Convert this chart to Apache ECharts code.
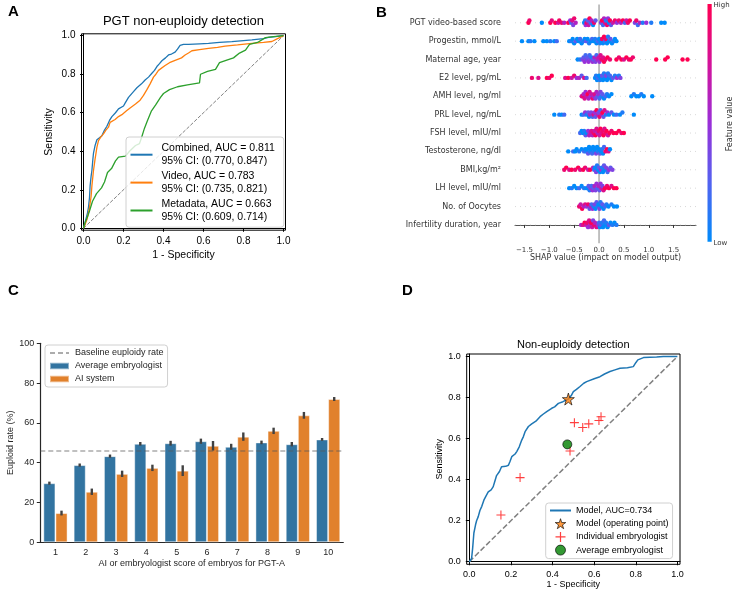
<!DOCTYPE html>
<html><head><meta charset="utf-8">
<script src="https://cdn.jsdelivr.net/npm/echarts@6/dist/echarts.min.js"></script>
<style>html,body{margin:0;padding:0;background:#fff}#c{width:736px;height:593px}</style>
</head><body><div id="c"></div>
<script>
// ---------- Panel A data ----------
const rocTicks = [0, 0.2, 0.4, 0.6, 0.8, 1.0];
const rocNames = ['Combined', 'Video', 'Metadata'];
const rocAUC = ['0.811', '0.783', '0.663'];
const rocCI = ['(0.770, 0.847)', '(0.735, 0.821)', '(0.609, 0.714)'];
const combinedROC = [[0,0],[0.008,0.03],[0.02,0.08],[0.025,0.11],[0.03,0.16],[0.033,0.22],[0.038,0.27],[0.042,0.30],[0.047,0.36],[0.05,0.39],[0.058,0.43],[0.067,0.46],[0.08,0.47],[0.092,0.48],[0.105,0.51],[0.117,0.53],[0.13,0.56],[0.142,0.58],[0.16,0.60],[0.175,0.62],[0.2,0.635],[0.208,0.65],[0.225,0.68],[0.233,0.69],[0.25,0.71],[0.267,0.73],[0.29,0.75],[0.308,0.77],[0.325,0.785],[0.342,0.805],[0.355,0.82],[0.367,0.84],[0.38,0.855],[0.392,0.87],[0.41,0.885],[0.425,0.9],[0.44,0.905],[0.458,0.915],[0.47,0.93],[0.483,0.95],[0.5,0.955],[0.525,0.955],[0.58,0.958],[0.625,0.96],[0.68,0.965],[0.742,0.969],[0.8,0.975],[0.842,0.978],[0.9,0.985],[0.925,0.991],[0.96,0.995],[1,1]];
const videoROC = [[0,0],[0.008,0.02],[0.017,0.045],[0.028,0.095],[0.033,0.13],[0.038,0.165],[0.042,0.22],[0.05,0.30],[0.058,0.36],[0.067,0.42],[0.075,0.455],[0.087,0.475],[0.1,0.49],[0.112,0.51],[0.125,0.525],[0.133,0.55],[0.158,0.565],[0.175,0.58],[0.192,0.59],[0.215,0.61],[0.233,0.625],[0.26,0.645],[0.283,0.665],[0.3,0.69],[0.317,0.72],[0.333,0.75],[0.35,0.785],[0.362,0.80],[0.375,0.82],[0.408,0.845],[0.43,0.86],[0.458,0.872],[0.49,0.885],[0.508,0.9],[0.525,0.91],[0.542,0.922],[0.58,0.928],[0.625,0.934],[0.67,0.94],[0.708,0.946],[0.77,0.952],[0.842,0.96],[0.9,0.965],[0.942,0.97],[0.97,0.985],[1,1]];
const metadataROC = [[0,0],[0.008,0.03],[0.02,0.06],[0.03,0.09],[0.045,0.14],[0.065,0.18],[0.09,0.21],[0.105,0.24],[0.12,0.29],[0.14,0.31],[0.16,0.35],[0.175,0.37],[0.21,0.375],[0.23,0.40],[0.26,0.43],[0.28,0.44],[0.29,0.47],[0.305,0.52],[0.32,0.56],[0.34,0.61],[0.36,0.64],[0.385,0.68],[0.40,0.70],[0.43,0.72],[0.47,0.735],[0.52,0.745],[0.58,0.755],[0.585,0.80],[0.62,0.815],[0.66,0.825],[0.68,0.86],[0.72,0.875],[0.75,0.885],[0.78,0.91],[0.81,0.925],[0.83,0.955],[0.87,0.965],[0.91,0.99],[0.95,0.995],[1,1]];
const chanceLine = [[0,0],[1,1]];

// ---------- Panel B data: [SHAP value, normalised feature value (-1 = missing)] ----------
const featureNames = ['PGT video-based score','Progestin, mmol/L','Maternal age, year','E2 level, pg/mL','AMH level, ng/ml','PRL level, ng/mL','FSH level, mIU/ml','Testosterone, ng/dl','BMI,kg/m\u00B2','LH level, mIU/ml','No. of Oocytes','Infertility duration, year'];
const shapTicks = [-1.5, -1.0, -0.5, 0, 0.5, 1.0, 1.5];
const shapPGT = [[-1.42,1],[-1.40,0.9],[-1.15,0],[-0.98,1],[-0.95,0.85],[-0.88,1],[-0.82,0.7],[-0.8,0.95],[-0.75,0.9],[-0.7,0.6],[-0.62,1],[-0.58,0.5],[-0.56,0.2],[-0.54,0.8],[-0.52,0.4],[-0.5,0.9],[-0.47,0.6],[-0.3,0],[-0.28,0.1],[-0.27,0.5],[-0.25,0.9],[-0.23,0.3],[-0.21,0.7],[-0.19,1],[-0.17,0.2],[-0.15,0.6],[-0.12,0],[-0.1,0.9],[-0.07,0.3],[0.04,0.4],[0.06,1],[0.08,0.2],[0.1,0.6],[0.12,0.8],[0.14,0.1],[0.16,0.9],[0.18,0.5],[0.2,0],[0.22,1],[0.24,0.3],[0.28,0.7],[0.32,0.9],[0.36,0.5],[0.4,0.9],[0.44,0.6],[0.48,1],[0.52,0.2],[0.55,0.7],[0.58,0.9],[0.62,1],[0.72,0.4],[0.75,0.9],[0.78,0.2],[0.82,0.6],[0.88,0.1],[0.95,0.5],[1.05,0.1],[1.25,0],[1.32,0]];
const shapProgestin = [[-1.55,0],[-1.42,0],[-1.38,0.1],[-1.3,0],[-1.12,0],[-1.05,0],[-0.98,0.1],[-0.9,-1],[-0.85,0.2],[-0.6,0],[-0.56,0.1],[-0.53,0],[-0.5,-1],[-0.47,0.3],[-0.44,0],[-0.41,-1],[-0.38,0.2],[-0.35,0],[-0.32,0.1],[-0.29,0],[-0.26,0.3],[-0.23,0],[-0.2,0.1],[-0.17,0],[-0.14,0.2],[-0.11,0],[-0.08,0.1],[-0.05,0],[-0.02,0.2],[0,0],[0.02,0.1],[0.04,0],[0.06,0.9],[0.08,0],[0.1,1],[0.12,0.2],[0.14,0.9],[0.16,0],[0.18,0.1],[0.2,0],[0.23,0.3],[0.26,0],[0.29,0.1],[0.32,0],[0.35,0]];
const shapAge = [[-0.43,0],[-0.38,0.1],[-0.33,0.4],[-0.31,0.3],[-0.29,0.5],[-0.27,0.2],[-0.25,0.4],[-0.23,0.3],[-0.21,0.5],[-0.19,0.2],[-0.17,0.4],[-0.15,0.1],[-0.13,0.5],[-0.11,0.3],[-0.09,0.6],[-0.07,0.4],[-0.05,0.2],[-0.03,0.6],[-0.01,0.7],[0.01,0.5],[0.03,0.8],[0.05,0.9],[0.08,0.8],[0.1,1],[0.13,0.9],[0.17,1],[0.22,0.9],[0.35,1],[0.4,0.9],[0.45,1],[0.5,0.8],[0.55,1],[0.6,0.9],[0.64,1],[0.68,0.9],[1.15,1],[1.33,1],[1.38,1],[1.68,1],[1.78,1]];
const shapE2 = [[-1.35,0.9],[-1.22,0.8],[-1.05,1],[-1.0,0.9],[-0.95,1],[-0.68,0.8],[-0.62,1],[-0.55,0.7],[-0.5,0.9],[-0.45,0.5],[-0.4,0.6],[-0.35,0.3],[-0.3,0.8],[-0.25,0.2],[-0.08,0],[-0.06,0.1],[-0.04,0],[-0.02,0.2],[0,0],[0.02,0.1],[0.04,0],[0.06,0.3],[0.08,0],[0.1,0.1],[0.12,0],[0.14,0.4],[0.16,0],[0.18,0.1],[0.2,0],[0.22,0.2],[0.25,0],[0.28,0.3],[0.32,0.1],[0.36,0.5],[0.4,0.1],[0.43,0.4]];
const shapAMH = [[-0.35,0.7],[-0.33,0.9],[-0.31,0.6],[-0.29,0.8],[-0.27,0.5],[-0.25,0.7],[-0.23,1],[-0.21,0.6],[-0.19,0.8],[-0.17,0.5],[-0.15,0.7],[-0.13,0.9],[-0.11,0.6],[-0.09,0.8],[-0.07,0.4],[-0.05,0.6],[-0.03,0.3],[-0.01,0.5],[0.01,0.2],[0.03,0.4],[0.05,0.1],[0.07,0.3],[0.1,0],[0.13,0.2],[0.16,0.1],[0.2,0],[0.25,0],[0.65,0],[0.7,0.1],[0.75,0],[0.8,0],[0.85,0.1],[0.9,0],[1.07,-1]];
const shapPRL = [[-0.9,0],[-0.8,0.1],[-0.75,0],[-0.7,0.2],[-0.35,0],[-0.31,0.2],[-0.28,0.5],[-0.25,0.1],[-0.22,0.3],[-0.2,0],[-0.18,0.6],[-0.16,0.4],[-0.13,0.2],[-0.11,0.8],[-0.09,0.5],[-0.07,0.3],[-0.05,1],[-0.03,0.6],[-0.01,0.4],[0.01,0.9],[0.03,0.2],[0.05,0.7],[0.07,1],[0.09,0.3],[0.11,0.8],[0.14,0.1],[0.17,0.5],[0.2,0],[0.25,0.3],[0.3,0],[0.35,0.2],[0.42,0],[0.47,0.1],[0.7,0]];
const shapFSH = [[-0.38,0.2],[-0.35,0],[-0.32,-1],[-0.3,0.1],[-0.27,0.3],[-0.25,0],[-0.22,0.5],[-0.2,0.6],[-0.17,0.7],[-0.15,0.8],[-0.13,0.6],[-0.11,0.9],[-0.09,0.7],[-0.07,1],[-0.05,0.8],[-0.03,0.6],[-0.01,0.9],[0.01,0.7],[0.03,1],[0.05,0.8],[0.07,0.9],[0.09,1],[0.11,0.8],[0.13,0.9],[0.15,1],[0.18,0.7],[0.21,1],[0.25,0.9],[0.29,1],[0.35,1],[0.4,1],[0.45,0.9],[0.5,1]];
const shapTestosterone = [[-0.62,0],[-0.52,0.2],[-0.48,0],[-0.45,-1],[-0.4,0.1],[-0.35,0],[-0.3,0.2],[-0.28,0],[-0.26,0.1],[-0.24,0],[-0.22,0.3],[-0.2,0],[-0.18,0.1],[-0.16,0],[-0.14,0.2],[-0.12,0],[-0.1,0.1],[-0.08,0],[-0.06,0.4],[-0.04,0],[-0.02,0.1],[0,0],[0.02,0.3],[0.04,0],[0.06,0.1],[0.08,0],[0.1,0.2],[0.13,0.9],[0.16,1],[0.19,0.8],[0.22,0]];
const shapBMI = [[-0.7,0.9],[-0.66,1],[-0.6,0.8],[-0.55,1],[-0.48,0.9],[-0.42,1],[-0.38,0.8],[-0.32,1],[-0.28,0.9],[-0.22,0.7],[-0.18,1],[-0.12,0.6],[-0.1,0.2],[-0.08,0],[-0.06,0.4],[-0.04,0.1],[-0.02,0],[0,0.3],[0.02,0],[0.04,0.5],[0.06,0.1],[0.08,0],[0.1,0.3],[0.12,0],[0.14,0.4],[0.17,0.2],[0.2,0.5],[0.23,0.3],[0.27,0.4]];
const shapLH = [[-0.6,0],[-0.55,0.1],[-0.5,0],[-0.45,0],[-0.4,0.2],[-0.35,0],[-0.3,0.1],[-0.25,0],[-0.21,0.3],[-0.19,0.1],[-0.17,0.4],[-0.15,0.2],[-0.13,0.5],[-0.11,0.3],[-0.09,0.6],[-0.07,0.4],[-0.05,0.5],[-0.03,0.2],[-0.01,0.6],[0.01,0.3],[0.03,0.5],[0.05,0.7],[0.07,0.4],[0.09,0.8],[0.12,1],[0.16,0.9],[0.2,1],[0.25,0.8],[0.3,1],[0.35,1]];
const shapOocytes = [[-0.4,0.9],[-0.37,0.7],[-0.34,1],[-0.31,0.6],[-0.28,0.8],[-0.25,0.5],[-0.22,0.9],[-0.19,0.3],[-0.17,0.6],[-0.15,0.2],[-0.13,0.5],[-0.11,0.1],[-0.09,0.4],[-0.07,0],[-0.05,0.3],[-0.03,0.1],[-0.01,0],[0.01,0.4],[0.03,0.1],[0.05,0],[0.07,0.3],[0.09,0],[0.12,0.2],[0.15,0.1],[0.19,0],[0.25,0.1],[0.3,0],[0.36,0]];
const shapInfertility = [[-0.36,0.6],[-0.32,0.8],[-0.29,1],[-0.26,0.7],[-0.24,0.9],[-0.22,0.5],[-0.2,0.8],[-0.18,0.6],[-0.16,1],[-0.14,0.7],[-0.12,0.4],[-0.1,0.9],[-0.08,0.6],[-0.05,0.8],[-0.02,0.5],[0,0.2],[0.02,0],[0.04,0.3],[0.06,0.1],[0.08,0],[0.1,0.2],[0.12,0],[0.14,0.1],[0.17,0],[0.2,0.3],[0.23,0],[0.27,0.1],[0.31,0],[0.35,0.1]];
const shapRows = [shapPGT, shapProgestin, shapAge, shapE2, shapAMH, shapPRL, shapFSH, shapTestosterone, shapBMI, shapLH, shapOocytes, shapInfertility];

// ---------- Panel C data ----------
const scoreCategories = ['1','2','3','4','5','6','7','8','9','10'];
const embryologistRate = [29.7, 38.8, 43.3, 49.5, 49.8, 50.8, 48.0, 50.2, 49.3, 51.7];
const embryologistErr = [0.8, 0.8, 0.8, 0.9, 1.2, 1.3, 1.5, 0.9, 1.1, 0.7];
const aiRate = [14.7, 25.4, 34.4, 37.4, 36.0, 48.5, 53.1, 56.0, 63.8, 72.0];
const aiErr = [1.2, 1.6, 1.6, 1.6, 2.7, 2.4, 2.1, 1.6, 1.7, 1.0];
const baselineRate = 46.0;

// ---------- Panel D data ----------
const modelROC = [[0,0],[0.011,0.016],[0.016,0.065],[0.022,0.14],[0.03,0.18],[0.035,0.2],[0.043,0.22],[0.051,0.25],[0.06,0.27],[0.07,0.30],[0.08,0.32],[0.091,0.34],[0.105,0.35],[0.115,0.366],[0.122,0.39],[0.131,0.42],[0.145,0.44],[0.155,0.463],[0.175,0.465],[0.188,0.47],[0.196,0.49],[0.204,0.512],[0.22,0.525],[0.228,0.537],[0.24,0.56],[0.252,0.593],[0.26,0.61],[0.268,0.634],[0.284,0.659],[0.3,0.672],[0.32,0.685],[0.34,0.707],[0.356,0.72],[0.372,0.732],[0.396,0.748],[0.41,0.755],[0.428,0.772],[0.45,0.78],[0.476,0.793],[0.49,0.81],[0.5,0.829],[0.515,0.84],[0.532,0.854],[0.55,0.87],[0.564,0.878],[0.6,0.892],[0.628,0.902],[0.65,0.915],[0.676,0.927],[0.7,0.935],[0.724,0.943],[0.76,0.945],[0.788,0.951],[0.8,0.97],[0.81,0.984],[0.837,0.995],[0.9,0.998],[0.933,1],[1,1]];
const operatingPoint = [[0.476, 0.793]];
const individualEmbryologists = [[0.152,0.228],[0.244,0.41],[0.484,0.54],[0.505,0.678],[0.545,0.654],[0.574,0.672],[0.623,0.688],[0.633,0.707]];
const averageEmbryologist = [[0.471, 0.572]];

// ---------- helpers ----------
const SANS = 'Liberation Sans';
const DJV = 'DejaVu Sans';
const shapColors = ['#008bfa', '#5362f0', '#9a2fd8', '#d4129a', '#ff0051'];
const starPath = 'path://M50,0L61,35L98,35L68,57L79,91L50,70L21,91L32,57L2,35L39,35Z';
const plusPath = 'path://M0,44L100,44L100,56L0,56Z M44,0L56,0L56,100L44,100Z';
const fmt1 = v => Number(v).toFixed(1);
const hideSym = { opacity: 0 };

// beeswarm stacking (deterministic layout like shap's summary plot)
function swarm(points) {
  const BIN = 0.075;
  const order = points.map((p, i) => i).sort((a, b) => points[a][0] - points[b][0]);
  const layers = {};
  const out = new Array(points.length);
  order.forEach(i => {
    const b = Math.round(points[i][0] / BIN);
    const l = layers[b] || 0;
    layers[b] = l + 1;
    out[i] = Math.ceil(l / 2) * ((l % 2) * 2 - 1);
  });
  return out;
}
const swarmData = [];
shapRows.forEach((row, r) => {
  const offs = swarm(row);
  row.forEach((p, k) => swarmData.push([p[0], (11 - r) + offs[k] * 0.12, p[1]]));
});

function roAxis(gi, min, max, fs, color) {
  return {
    type: 'value', gridIndex: gi, min: min, max: max,
    axisLine: { show: true, lineStyle: { color: '#000', width: 1 } },
    axisTick: { show: true, length: 3.5, customValues: rocTicks, lineStyle: { color: '#000' } },
    axisLabel: { customValues: rocTicks, formatter: fmt1, fontSize: fs, color: color, fontFamily: SANS, margin: 6 },
    splitLine: { show: false }
  };
}

const chart = echarts.init(document.getElementById('c'), null, { renderer: 'canvas' });

const series = [];
// A
const rocColors = ['#1f77b4', '#ff7f0e', '#2ca02c'];
series.push({ type: 'line', xAxisIndex: 0, yAxisIndex: 0, data: chanceLine, symbol: 'none', silent: true,
  lineStyle: { color: '#808080', width: 1, type: [3.7, 1.6] }, z: 2 });
[combinedROC, videoROC, metadataROC].forEach((d, i) => series.push({
  type: 'line', name: rocNames[i], xAxisIndex: 0, yAxisIndex: 0, data: d, symbol: 'none', showSymbol: false,
  color: rocColors[i], lineStyle: { color: rocColors[i], width: 1.3 }, z: 3
}));
// B
series.push({ type: 'custom', xAxisIndex: 1, yAxisIndex: 1, silent: true, z: 1,
  data: featureNames.map((n, i) => [0, 11 - i]),
  renderItem: (params, api) => {
    const cs = params.coordSys;
    const y = api.coord([0, api.value(1)])[1];
    return { type: 'line', shape: { x1: cs.x, y1: y, x2: cs.x + cs.width, y2: y },
      style: { stroke: '#c8c8c8', lineWidth: 0.7, lineDash: [1, 4] } };
  } });
series.push({ type: 'custom', xAxisIndex: 1, yAxisIndex: 1, silent: true, z: 1,
  data: [[0, 0]],
  renderItem: (params, api) => {
    const cs = params.coordSys;
    const x = api.coord([api.value(0), 0])[0];
    return { type: 'line', shape: { x1: x, y1: cs.y, x2: x, y2: cs.y + cs.height },
      style: { stroke: '#999', lineWidth: 1.2 } };
  } });
const dotsIndex = series.length;
series.push({ type: 'scatter', xAxisIndex: 1, yAxisIndex: 1, data: swarmData, symbolSize: 4.4,
  itemStyle: { opacity: 1 }, z: 3, silent: true });
// C
series.push({ type: 'bar', name: 'Average embryologist', xAxisIndex: 2, yAxisIndex: 2, data: embryologistRate,
  barWidth: '40%', barGap: '0%', color: '#3274a1',
  itemStyle: { color: '#3274a1', borderColor: 'rgba(255,255,255,0.45)', borderWidth: 1 } });
series.push({ type: 'bar', name: 'AI system', xAxisIndex: 2, yAxisIndex: 2, data: aiRate,
  barWidth: '40%', barGap: '0%', color: '#e1812c',
  itemStyle: { color: '#e1812c', borderColor: 'rgba(255,255,255,0.45)', borderWidth: 1 } });
function errSeries(vals, errs, sign) {
  return { type: 'custom', xAxisIndex: 2, yAxisIndex: 2, silent: true, z: 4,
    data: vals.map((v, i) => [i, v, errs[i]]),
    renderItem: (params, api) => {
      const idx = api.value(0), v = api.value(1), e = api.value(2);
      const bw = api.size([1, 0])[0];
      const x = api.coord([idx, v])[0] + sign * bw * 0.2;
      const y1 = api.coord([idx, v + e])[1], y2 = api.coord([idx, v - e])[1];
      return { type: 'line', shape: { x1: x, y1: y1, x2: x, y2: y2 },
        style: { stroke: '#424242', lineWidth: 2.4 } };
    } };
}
series.push(errSeries(embryologistRate, embryologistErr, -1));
series.push(errSeries(aiRate, aiErr, 1));
series.push({ type: 'line', name: 'Baseline euploidy rate', xAxisIndex: 2, yAxisIndex: 2, data: [], symbol: 'none', showSymbol: false,
  color: 'rgba(90,90,90,0.5)', lineStyle: { color: 'rgba(90,90,90,0.5)', width: 1.5, type: [5, 3] }, z: 6,
  markLine: { silent: true, symbol: 'none', label: { show: false }, animation: false,
    lineStyle: { color: 'rgba(90,90,90,0.5)', width: 1.5, type: [5, 3] },
    data: [{ yAxis: baselineRate }] } });
// D
series.push({ type: 'line', xAxisIndex: 3, yAxisIndex: 3, data: chanceLine, symbol: 'none', silent: true,
  lineStyle: { color: '#808080', width: 1.5, type: [5.5, 2.4] }, z: 2 });
series.push({ type: 'line', name: 'Model, AUC=0.734', xAxisIndex: 3, yAxisIndex: 3, data: modelROC, symbol: 'none', showSymbol: false,
  color: '#1f77b4', lineStyle: { color: '#1f77b4', width: 1.5 }, z: 3 });
series.push({ type: 'scatter', name: 'Model (operating point)', xAxisIndex: 3, yAxisIndex: 3, data: operatingPoint,
  symbol: starPath, symbolSize: 12, color: '#ff7f0e', itemStyle: { color: '#ff7f0e', borderColor: '#000', borderWidth: 0.8 }, z: 5 });
series.push({ type: 'scatter', name: 'Individual embryologist', xAxisIndex: 3, yAxisIndex: 3, data: individualEmbryologists,
  symbol: plusPath, symbolSize: 9, color: '#ff2a2a', itemStyle: { color: '#ff2a2a', opacity: 0.9 }, z: 4 });
series.push({ type: 'scatter', name: 'avgEmb', xAxisIndex: 3, yAxisIndex: 3, data: averageEmbryologist,
  symbol: 'circle', symbolSize: 9, color: '#008000', itemStyle: { color: '#008000', borderColor: '#000', borderWidth: 0.8 }, z: 5 });

const option = {
  animation: false,
  backgroundColor: '#fff',
  textStyle: { fontFamily: SANS },
  grid: [
    { left: 81.5, top: 33.8, width: 204, height: 196.4, show: true, borderColor: '#000', borderWidth: 1, backgroundColor: 'transparent' },
    { left: 515, top: 4.4, width: 181, height: 238.9 },
    { left: 40.3, top: 343.3, width: 303, height: 199 },
    { left: 466.7, top: 354, width: 213.3, height: 210.3, show: true, borderColor: '#000', borderWidth: 1, backgroundColor: 'transparent' }
  ],
  xAxis: [
    Object.assign(roAxis(0, -0.01, 1.01, 10, '#000'), { name: '1 - Specificity', nameLocation: 'middle', nameGap: 19,
      nameTextStyle: { fontSize: 10.5, color: '#000', fontFamily: SANS } }),
    { type: 'value', gridIndex: 1, min: -1.69, max: 1.95,
      axisLine: { show: true, lineStyle: { color: '#555', width: 1 } },
      axisTick: { show: true, length: 3, customValues: shapTicks, lineStyle: { color: '#333' } },
      axisLabel: { customValues: shapTicks, formatter: v => fmt1(v).replace('-', '\u2212'), fontSize: 7, color: '#333', fontFamily: DJV, margin: 3 },
      splitLine: { show: false },
      name: 'SHAP value (impact on model output)', nameLocation: 'middle', nameGap: 10,
      nameTextStyle: { fontSize: 8, color: '#333', fontFamily: DJV } },
    { type: 'category', gridIndex: 2, data: scoreCategories,
      axisLine: { lineStyle: { color: '#262626', width: 1.2 } },
      axisTick: { alignWithLabel: true, length: 3.5, lineStyle: { color: '#262626' } },
      axisLabel: { fontSize: 9, color: '#262626', fontFamily: SANS, margin: 6 },
      name: 'AI or embryologist score of embryos for PGT-A', nameLocation: 'middle', nameGap: 17,
      nameTextStyle: { fontSize: 9, color: '#262626', fontFamily: SANS } },
    Object.assign(roAxis(3, -0.0125, 1.0125, 9, '#000'), { name: '1 - Specificity', nameLocation: 'middle', nameGap: 16,
      nameTextStyle: { fontSize: 9, color: '#000', fontFamily: SANS } })
  ],
  yAxis: [
    Object.assign(roAxis(0, -0.01, 1.01, 10, '#000'), { name: 'Sensitivity', nameLocation: 'middle', nameGap: 27,
      nameTextStyle: { fontSize: 10.5, color: '#000', fontFamily: SANS } }),
    { type: 'value', gridIndex: 1, min: -1, max: 12,
      axisLine: { show: false }, axisTick: { show: false }, splitLine: { show: false },
      axisLabel: { customValues: [0,1,2,3,4,5,6,7,8,9,10,11], formatter: v => featureNames[11 - v] || '',
        fontSize: 8, color: '#333', fontFamily: DJV, margin: 14 } },
    { type: 'value', gridIndex: 2, min: 0, max: 100, interval: 20,
      axisLine: { show: true, lineStyle: { color: '#262626', width: 1.2 } },
      axisTick: { show: true, length: 3.5, lineStyle: { color: '#262626' } },
      axisLabel: { fontSize: 9, color: '#262626', fontFamily: SANS, margin: 6 },
      splitLine: { show: false },
      name: 'Euploid rate (%)', nameLocation: 'middle', nameGap: 24,
      nameTextStyle: { fontSize: 9, color: '#262626', fontFamily: SANS } },
    Object.assign(roAxis(3, -0.0125, 1.0125, 9, '#000'), { name: 'Sensitivity', nameLocation: 'middle', nameGap: 22,
      nameTextStyle: { fontSize: 9, color: '#000', fontFamily: SANS } })
  ],
  visualMap: [{ type: 'continuous', show: false, seriesIndex: dotsIndex, dimension: 2, min: 0, max: 1,
    inRange: { color: shapColors }, outOfRange: { color: '#777777' } }],
  legend: [
    { data: rocNames.map(n => ({ name: n, itemStyle: hideSym })), left: 126, top: 137, orient: 'vertical', selectedMode: false,
      itemWidth: 22, itemHeight: 8, itemGap: 0.5,
      formatter: name => { const i = rocNames.indexOf(name); return name + ', AUC = ' + rocAUC[i] + '\n95% CI: ' + rocCI[i]; },
      textStyle: { fontSize: 10.5, lineHeight: 13.7, color: '#000', fontFamily: SANS, padding: [0, 0, 0, 4] },
      padding: [4, 9, 3, 3.5], backgroundColor: 'rgba(255,255,255,0.8)', borderColor: '#d0d0d0', borderWidth: 1, borderRadius: 3 },
    { data: [{ name: 'Baseline euploidy rate', itemStyle: hideSym }, { name: 'Average embryologist', icon: 'rect' }, { name: 'AI system', icon: 'rect' }],
      left: 45, top: 345, orient: 'vertical', selectedMode: false,
      itemWidth: 19, itemHeight: 6.5, itemGap: 2,
      textStyle: { fontSize: 9, lineHeight: 11, color: '#262626', fontFamily: SANS, padding: [0, 0, 0, 1] },
      padding: [2.5, 4, 2.5, 4], backgroundColor: 'rgba(255,255,255,0.8)', borderColor: '#d0d0d0', borderWidth: 1, borderRadius: 3 },
    { data: [{ name: 'Model, AUC=0.734', itemStyle: hideSym },
             { name: 'Model (operating point)', icon: starPath, itemStyle: { color: '#ff7f0e', borderColor: '#000', borderWidth: 0.8 } },
             { name: 'Individual embryologist', icon: plusPath, itemStyle: { color: '#ff2a2a', borderWidth: 0 } },
             { name: 'avgEmb', icon: 'circle', itemStyle: { color: '#008000', borderColor: '#000', borderWidth: 0.8 } }],
      formatter: name => name === 'avgEmb' ? 'Average embryologist' : name,
      left: 545.7, top: 503, orient: 'vertical', selectedMode: false,
      itemWidth: 21, itemHeight: 10, itemGap: 2.2,
      textStyle: { fontSize: 9, lineHeight: 11, color: '#000', fontFamily: SANS },
      padding: [2, 4, 3, 3.3], backgroundColor: 'rgba(255,255,255,0.8)', borderColor: '#d0d0d0', borderWidth: 1, borderRadius: 3 }
  ],
  graphic: [
    { type: 'text', left: 8, top: 4, style: { text: 'A', font: 'bold 15px "Liberation Sans"', fill: '#000' } },
    { type: 'text', left: 376, top: 5, style: { text: 'B', font: 'bold 15px "Liberation Sans"', fill: '#000' } },
    { type: 'text', left: 8, top: 283, style: { text: 'C', font: 'bold 15px "Liberation Sans"', fill: '#000' } },
    { type: 'text', left: 402, top: 283, style: { text: 'D', font: 'bold 15px "Liberation Sans"', fill: '#000' } },
    { type: 'text', x: 183.5, y: 21, style: { text: 'PGT non-euploidy detection', font: '13px "Liberation Sans"', fill: '#000', textAlign: 'center', textVerticalAlign: 'middle' } },
    { type: 'text', x: 573.3, y: 345, style: { text: 'Non-euploidy detection', font: '11px "Liberation Sans"', fill: '#000', textAlign: 'center', textVerticalAlign: 'middle' } },
    { type: 'rect', shape: { x: 707.5, y: 4, width: 4.2, height: 237.7 },
      style: { fill: new echarts.graphic.LinearGradient(0, 0, 0, 1, shapColors.slice().reverse().map((c, i, a) => ({ offset: i / (a.length - 1), color: c }))) } },
    { type: 'text', x: 713.5, y: 5, style: { text: 'High', font: '7px "DejaVu Sans"', fill: '#333', textVerticalAlign: 'middle' } },
    { type: 'text', x: 713.5, y: 243, style: { text: 'Low', font: '7px "DejaVu Sans"', fill: '#333', textVerticalAlign: 'middle' } },
    { type: 'text', x: 730, y: 124, rotation: Math.PI / 2, style: { text: 'Feature value', font: '8px "DejaVu Sans"', fill: '#333', textAlign: 'center', textVerticalAlign: 'middle' } }
  ],
  series: series
};
chart.setOption(option);
</script></body></html>
